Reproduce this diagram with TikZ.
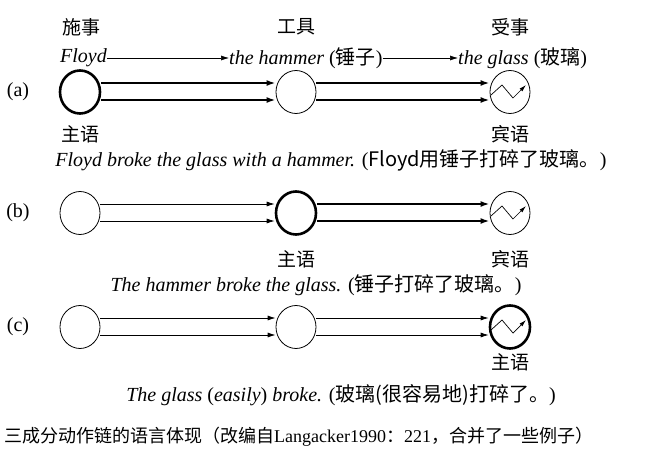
\documentclass[tikz,border=0pt]{standalone}
\usepackage{fontspec}
\setmainfont{Liberation Serif}
\newfontfamily\cjk{Noto Sans CJK SC}
\usetikzlibrary{arrows.meta,shapes.geometric}
\begin{document}
\begin{tikzpicture}[x=1pt,y=-1pt,
  ent/.style={draw,ellipse,minimum width=40pt,minimum height=43pt,inner sep=0pt,line width=0.8pt},
  bold/.style={line width=2.6pt},
  lbl/.style={font=\fontsize{19}{19}\selectfont\cjk},
  txt/.style={font=\fontsize{20}{20}\selectfont,inner sep=0pt},
  thin/.style={line width=0.8pt,-{Latex[length=8pt,width=5pt]}},
  thk/.style={line width=2.6pt,-{Latex[length=9pt,width=6pt]}},
  small/.style={line width=0.7pt,-{Latex[length=7pt,width=4pt]}}]
\useasboundingbox (0,0) rectangle (657,463);
% row a
\node[ent,bold] (a1) at (80,92) {};
\node[ent] (a2) at (296,92) {};
\node[ent] (a3) at (510,92) {};
\foreach \s/\t in {a1/a2,a2/a3}{
 \draw[thk] ([yshift=-8pt]\s.east) -- ([yshift=-8pt]\t.west);
 \draw[thk] ([yshift=9pt]\s.east) -- ([yshift=9pt]\t.west);}
\node[lbl] (ha) at (82,27) {施事};
\node[lbl] (hb) at (296,27) {工具};
\node[lbl] (hc) at (510,27) {受事};
\node[txt,anchor=east] (f) at (107,58) {\textit{Floyd}};
\node[txt,anchor=west] (h) at (229,58) {\textit{the hammer} ({\cjk 锤子})};
\node[txt,anchor=west] (g) at (458,58) {\textit{the glass} ({\cjk 玻璃})};
\draw[thin,line width=0.6pt] (f.east) -- (h.west);
\draw[thin,line width=0.6pt] (h.east) -- (g.west);
\node[txt] (la) at (18,92) {(a)};
\node[lbl] (sa) at (80,134) {主语};
\node[lbl] (oa) at (510,134) {宾语};
\node[txt] (ea) at (331,160) {\textit{Floyd broke the glass with a hammer.} ({\cjk Floyd用锤子打碎了玻璃。})};
% row b
\node[ent] (b1) at (80,213) {};
\node[ent,bold] (b2) at (296,213) {};
\node[ent] (b3) at (510,213) {};
\draw[thin] ([yshift=-8pt]b1.east) -- ([yshift=-8pt]b2.west);
\draw[thin] ([yshift=9pt]b1.east) -- ([yshift=9pt]b2.west);
\draw[thk] ([yshift=-8pt]b2.east) -- ([yshift=-8pt]b3.west);
\draw[thk] ([yshift=9pt]b2.east) -- ([yshift=9pt]b3.west);
\node[txt] (lb) at (18,213) {(b)};
\node[lbl] (sb) at (296,259) {主语};
\node[lbl] (ob) at (510,259) {宾语};
\node[txt] (eb) at (316,285) {\textit{The hammer broke the glass.} ({\cjk 锤子打碎了玻璃。})};
% row c
\node[ent] (c1) at (80,327) {};
\node[ent] (c2) at (296,327) {};
\node[ent,bold] (c3) at (510,327) {};
\foreach \s/\t in {c1/c2,c2/c3}{
 \draw[thin] ([yshift=-8pt]\s.east) -- ([yshift=-8pt]\t.west);
 \draw[thin] ([yshift=9pt]\s.east) -- ([yshift=9pt]\t.west);}
\node[txt] (lc) at (18,327) {(c)};
\node[lbl] (sc) at (510,362) {主语};
\node[txt] (ec) at (341,395) {\textit{The glass} (\textit{easily}) \textit{broke.} ({\cjk 玻璃(很容易地)打碎了。})};
\foreach \c in {a3,b3,c3}{
 \draw[small] ([shift={(-19,3)}]\c.center) -- ([shift={(-8,-7)}]\c.center) -- ([shift={(3,6)}]\c.center) -- ([shift={(16,-7)}]\c.center);}
\node[anchor=west,inner sep=0pt,font=\fontsize{18}{18}\selectfont] (cap) at (4,437) {{\cjk 三成分动作链的语言体现（改编自}Langacker1990{\cjk ：}221{\cjk ，合并了一些例子）}};
\end{tikzpicture}
\end{document}
